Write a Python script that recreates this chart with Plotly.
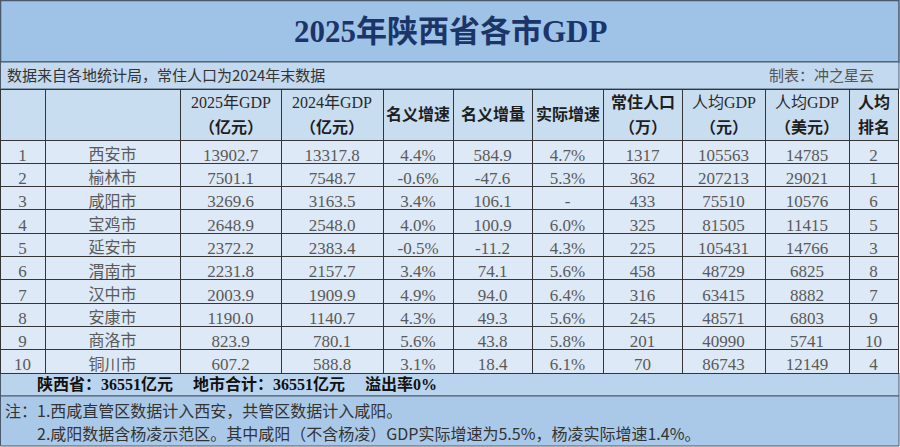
import plotly.graph_objects as go

title = "2025年陕西省各市GDP"
subtitle = "数据来自各地统计局，常住人口为2024年末数据"
author = "制表：冲之星云"
headers = [[""], [""], ["2025年GDP", "（亿元）"], ["2024年GDP", "（亿元）"], ["名义增速"], ["名义增量"],
           ["实际增速"], ["常住人口", "（万）"], ["人均GDP", "（元）"], ["人均GDP", "（美元）"], ["人均", "排名"]]
rank = ["1", "2", "3", "4", "5", "6", "7", "8", "9", "10"]
cities = ["西安市", "榆林市", "咸阳市", "宝鸡市", "延安市", "渭南市", "汉中市", "安康市", "商洛市", "铜川市"]
gdp2025 = ["13902.7", "7501.1", "3269.6", "2648.9", "2372.2", "2231.8", "2003.9", "1190.0", "823.9", "607.2"]
gdp2024 = ["13317.8", "7548.7", "3163.5", "2548.0", "2383.4", "2157.7", "1909.9", "1140.7", "780.1", "588.8"]
nominal_growth = ["4.4%", "-0.6%", "3.4%", "4.0%", "-0.5%", "3.4%", "4.9%", "4.3%", "5.6%", "3.1%"]
nominal_incr = ["584.9", "-47.6", "106.1", "100.9", "-11.2", "74.1", "94.0", "49.3", "43.8", "18.4"]
real_growth = ["4.7%", "5.3%", "-", "6.0%", "4.3%", "5.6%", "6.4%", "5.6%", "5.8%", "6.1%"]
population = ["1317", "362", "433", "325", "225", "458", "316", "245", "201", "70"]
per_cap_cny = ["105563", "207213", "75510", "81505", "105431", "48729", "63415", "48571", "40990", "86743"]
per_cap_usd = ["14785", "29021", "10576", "11415", "14766", "6825", "8882", "6803", "5741", "12149"]
per_cap_rank = ["2", "1", "6", "5", "3", "8", "7", "9", "10", "4"]
summary = "陕西省：36551亿元　 地市合计：36551亿元　 溢出率0%"
note1 = "注：1.西咸直管区数据计入西安，共管区数据计入咸阳。"
note2 = "　　2.咸阳数据含杨凌示范区。其中咸阳（不含杨凌）GDP实际增速为5.5%，杨凌实际增速1.4%。"

W, H = 900, 447
col_px = [45, 135, 101, 102, 70, 79, 71, 79, 83, 84, 49]
HEAD_TOP, HEAD_H, ROW_H = 89, 51, 23.3
TABLE_BOTTOM = HEAD_TOP + HEAD_H + ROW_H * len(cities)


def py(p):
    return 1 - p / H


def px(p):
    return p / W


serif = "Liberation Serif, Noto Sans CJK SC"
sans = "Noto Sans CJK SC, sans-serif"
line_col = "#353535"

fig = go.Figure()
fig.add_trace(go.Table(
    domain=dict(x=[0, px(sum(col_px))], y=[py(TABLE_BOTTOM + 1), py(HEAD_TOP)]),
    columnwidth=col_px,
    header=dict(values=[""] * len(col_px), height=HEAD_H, align="center",
                fill_color="#c9ddf1", line=dict(color=line_col, width=1),
                font=dict(family=serif, size=16, color="#1e1e1e")),
    cells=dict(values=[rank, cities, gdp2025, gdp2024, nominal_growth, nominal_incr, real_growth,
                       population, per_cap_cny, per_cap_usd, per_cap_rank],
               height=ROW_H, align="center",
               fill_color="#dde9f6", line=dict(color=line_col, width=1),
               font=dict(family=serif, size=[17, 16, 17, 17, 17, 17, 17, 17, 17, 17, 17],
                         color="#5a5a5a")),
))

shapes = [
    dict(type="rect", x0=px(0.5), x1=px(899), y0=py(62), y1=py(0.5), fillcolor="#9fc3e7",
         line=dict(color="#4a5a6a", width=1.5), layer="below"),
    dict(type="rect", x0=px(0.5), x1=px(899), y0=py(HEAD_TOP), y1=py(62), fillcolor="#c3d9ef",
         line=dict(color="#4a5a6a", width=1), layer="below"),
    dict(type="rect", x0=px(0.5), x1=px(899), y0=py(396), y1=py(TABLE_BOTTOM), fillcolor="#bad4ed",
         line=dict(color="#4a5a6a", width=1), layer="below"),
    dict(type="rect", x0=px(0.5), x1=px(899), y0=py(446), y1=py(396), fillcolor="#aac9e8",
         line=dict(color="#4a5a6a", width=1), layer="below"),
]

annotations = [
    dict(text=title, x=0.5, y=py(31), xref="paper", yref="paper", showarrow=False,
         xanchor="center", yanchor="middle",
         font=dict(family=serif, size=31, color="#1c3568", weight="bold")),
    dict(text=subtitle, x=px(5), y=py(75), xref="paper", yref="paper", showarrow=False,
         xanchor="left", yanchor="middle", font=dict(family=sans, size=15, color="#333333")),
    dict(text=author, x=px(876), y=py(75), xref="paper", yref="paper", showarrow=False,
         xanchor="right", yanchor="middle", font=dict(family=sans, size=15, color="#555555")),
    dict(text=summary, x=px(35), y=py(384), xref="paper", yref="paper", showarrow=False,
         xanchor="left", yanchor="middle",
         font=dict(family=serif, size=16, color="#111111", weight="bold")),
    dict(text=note1, x=px(3), y=py(410), xref="paper", yref="paper", showarrow=False,
         xanchor="left", yanchor="middle", font=dict(family=sans, size=16, color="#333333")),
    dict(text=note2, x=px(3), y=py(433), xref="paper", yref="paper", showarrow=False,
         xanchor="left", yanchor="middle", font=dict(family=sans, size=16, color="#333333")),
]

# header labels placed at column centres derived from the column widths
left = 0
for w, lines in zip(col_px, headers):
    cx = left + w / 2
    if len(lines) == 1:
        ys = [HEAD_TOP + HEAD_H / 2]
    else:
        ys = [HEAD_TOP + 13, HEAD_TOP + 38.5]
    for txt, yy in zip(lines, ys):
        if txt:
            latin = "GDP" in txt
            annotations.append(dict(text=txt, x=px(cx), y=py(yy), xref="paper", yref="paper",
                                    showarrow=False, xanchor="center", yanchor="middle",
                                    font=dict(family=serif, size=16,
                                              color="#2a2a2a" if latin else "#1e1e1e",
                                              weight="normal" if latin else "bold")))
    left += w

fig.update_layout(width=W, height=H, margin=dict(l=0, r=0, t=0, b=0),
                  paper_bgcolor="#ffffff", plot_bgcolor="#ffffff",
                  shapes=shapes, annotations=annotations)
fig.write_html("out.html", config={"displayModeBar": False},
               post_script="document.body.style.margin='0';document.body.style.overflow='hidden';")
